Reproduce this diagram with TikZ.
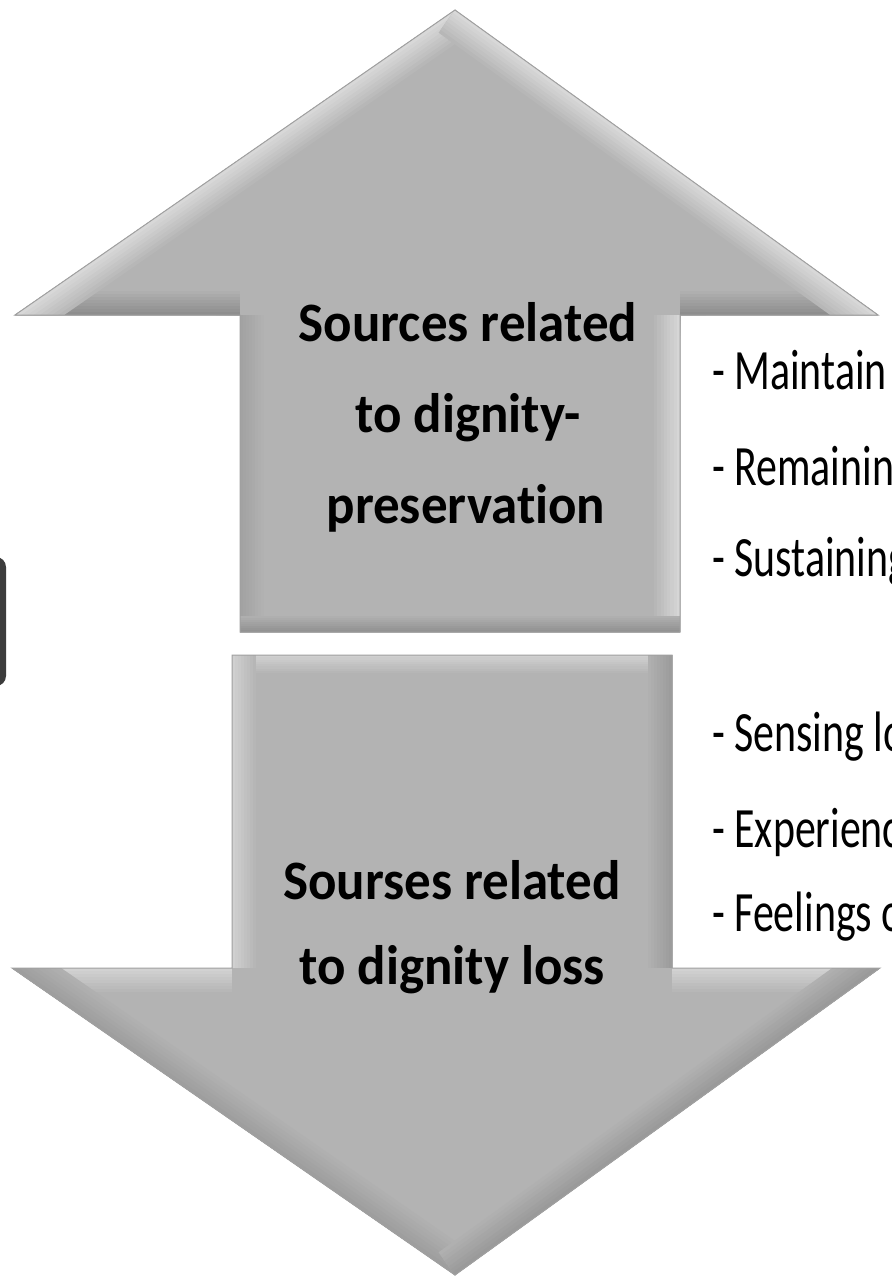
\documentclass[tikz,border=0pt]{standalone}
\usepackage{fontspec}
\setmainfont{Carlito}[Ligatures=NoCommon]
\definecolor{cgray}{HTML}{B3B3B3}
\definecolor{edgeline}{HTML}{A0A0A0}
\definecolor{darkblk}{HTML}{3C3C3C}
\definecolor{bvA}{HTML}{A2A2A2}
\definecolor{bvB}{HTML}{D6D6D6}
\definecolor{bvC}{HTML}{929292}
\definecolor{bvD}{HTML}{8E8E8E}
\definecolor{bvE}{HTML}{D8D8D8}
\definecolor{bvF}{HTML}{D0D0D0}
\definecolor{bvG}{HTML}{9C9C9C}
\definecolor{bvH}{HTML}{D2D2D2}
\definecolor{bvI}{HTML}{9E9E9E}
\definecolor{bvJ}{HTML}{9A9A9A}
\newcommand\bevseg[4]{%
  \foreach \k in {0,...,7}{%
    \pgfmathsetmacro\lw{2*#4*(8-\k)/8}%
    \pgfmathtruncatemacro\pc{100*(\k+1)/8}%
    \draw[line width=\lw pt, color=#3!\pc!cgray] #1 -- #2;%
  }}
\tikzset{
  lefttxt/.style={font=\fontsize{53}{53}\selectfont\bfseries, inner sep=0pt, anchor=base, yscale=1.05},
  righttxt/.style={font=\fontsize{57}{57}\selectfont, inner sep=0pt, anchor=base west, xscale=0.735},
}
\begin{document}
\begin{tikzpicture}[x=1pt,y=-1pt]
\useasboundingbox (0,0) rectangle (891,1281);
\clip (0,0) rectangle (891,1281);
\fill[white] (0,0) rectangle (891,1281);

% dark shape at the left border
\fill[darkblk, rounded corners=10pt] (-30,557) rectangle (6,686);

% upper arrow
\begin{scope}
\clip (455,10) -- (878,315) -- (680,315) -- (680,632) -- (240,632) -- (240,315) -- (15,315) -- cycle;
\fill[cgray] (0,0) rectangle (891,700);
\bevseg{(240,315)}{(240,632)}{bvA}{24}
\bevseg{(680,315)}{(680,632)}{bvB}{26}
\bevseg{(240,632)}{(680,632)}{bvC}{16}
\bevseg{(15,315)}{(240,315)}{bvD}{24}
\bevseg{(680,315)}{(878,315)}{bvD}{24}
\bevseg{(15,315)}{(455,10)}{bvE}{28}
\bevseg{(455,10)}{(878,315)}{bvE}{28}
\end{scope}
\draw[edgeline, line width=1pt, line join=miter] (455,10) -- (878,315) -- (680,315) -- (680,632) -- (240,632) -- (240,315) -- (15,315) -- cycle;

% lower arrow
\begin{scope}
\clip (232,655) -- (672,655) -- (672,968) -- (880,968) -- (455,1275) -- (12,968) -- (232,968) -- cycle;
\fill[cgray] (0,640) rectangle (891,1281);
\bevseg{(232,655)}{(672,655)}{bvF}{18}
\bevseg{(232,655)}{(232,968)}{bvF}{24}
\bevseg{(672,655)}{(672,968)}{bvG}{24}
\bevseg{(12,968)}{(232,968)}{bvH}{24}
\bevseg{(672,968)}{(880,968)}{bvH}{24}
\bevseg{(12,968)}{(455,1275)}{bvI}{28}
\bevseg{(880,968)}{(455,1275)}{bvJ}{28}
\end{scope}
\draw[edgeline, line width=1pt, line join=miter] (232,655) -- (672,655) -- (672,968) -- (880,968) -- (455,1275) -- (12,968) -- (232,968) -- cycle;

% left labels
\node[lefttxt] (u1) at (468,341) {Sources related};
\node[lefttxt] (u2) at (468,432) {to dignity-};
\node[lefttxt] (u3) at (466,523) {preservation};
\node[lefttxt] (d1) at (452,899) {Sourses related};
\node[lefttxt] (d2) at (452,984) {to dignity loss};

% right labels
\node[righttxt] (r1) at (712,389) {- Maintain};
\node[righttxt] (r2) at (712,485) {- Remainin};
\node[righttxt] (r3) at (712,576) {- Sustaining};
\node[righttxt] (r4) at (712,751) {- Sensing lo};
\node[righttxt] (r5) at (712,847) {- Experience};
\node[righttxt] (r6) at (712,931) {- Feelings o};
\end{tikzpicture}
\end{document}
